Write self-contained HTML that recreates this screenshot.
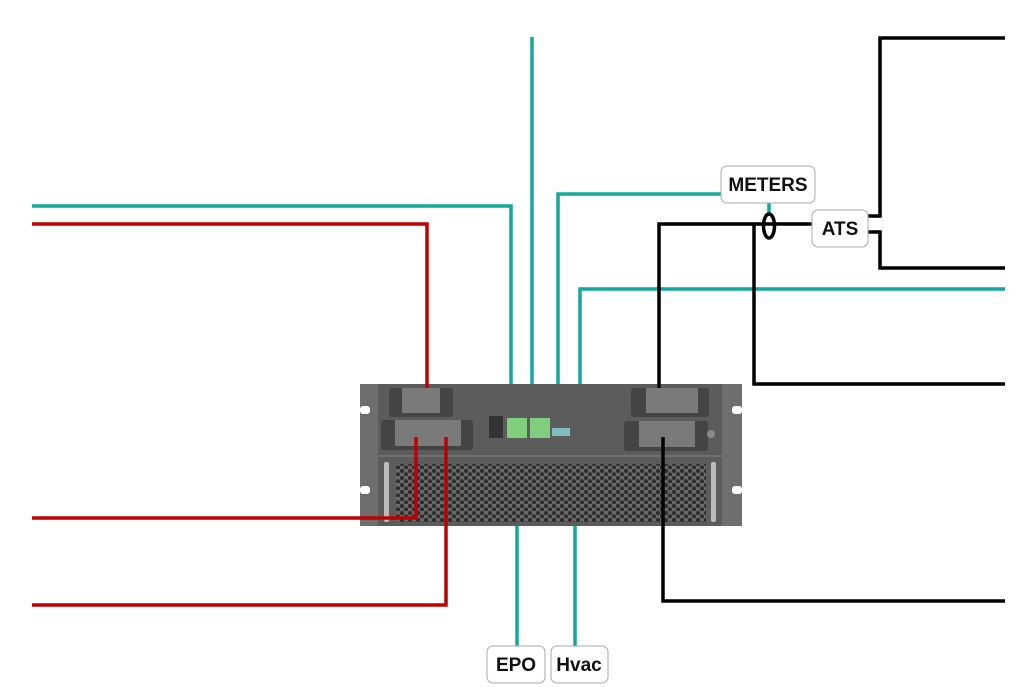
<!DOCTYPE html>
<html><head><meta charset="utf-8"><style>
html,body{margin:0;padding:0;background:#fff;width:1024px;height:687px;overflow:hidden}
svg{display:block}
.lbl{font-family:"Liberation Sans","DejaVu Sans",sans-serif;font-weight:bold;font-size:19px;fill:#111}
</style></head><body>
<svg width="1024" height="687" viewBox="0 0 1024 687" xmlns="http://www.w3.org/2000/svg">
<defs>
<pattern id="hex" width="8" height="7" patternUnits="userSpaceOnUse">
<rect width="8" height="7" fill="#6a6a6a"/>
<circle cx="2" cy="2" r="2.2" fill="#2e2e2e"/>
<circle cx="6" cy="5.5" r="2.2" fill="#2e2e2e"/>
</pattern>
</defs>
<!-- device -->
<rect x="360" y="384" width="382" height="142" fill="#6e6e6e"/>
<rect x="378" y="384" width="344" height="142" fill="#5c5c5c"/>
<rect x="360" y="406" width="10" height="8" rx="3" fill="#fff"/>
<rect x="360" y="486" width="10" height="8" rx="3" fill="#fff"/>
<rect x="732" y="406" width="10" height="8" rx="3" fill="#fff"/>
<rect x="732" y="486" width="10" height="8" rx="3" fill="#fff"/>
<line x1="378" y1="456" x2="722" y2="456" stroke="#777" stroke-width="1.5"/>
<rect x="396" y="464" width="310" height="58" fill="url(#hex)"/>
<rect x="384" y="462" width="5" height="60" rx="2" fill="#bbb"/>
<rect x="711" y="462" width="5" height="60" rx="2" fill="#bbb"/>
<!-- terminal blocks -->
<rect x="389" y="388" width="64" height="29" rx="3" fill="#444"/>
<rect x="402" y="388" width="38" height="25" fill="#7a7a7a"/>
<rect x="381" y="420" width="92" height="30" rx="3" fill="#444"/>
<rect x="395" y="420" width="66" height="26" fill="#7a7a7a"/>
<rect x="631" y="388" width="78" height="29" rx="3" fill="#444"/>
<rect x="646" y="388" width="52" height="25" fill="#7a7a7a"/>
<rect x="624" y="421" width="84" height="30" rx="3" fill="#444"/>
<rect x="639" y="421" width="56" height="26" fill="#7a7a7a"/>
<circle cx="711" cy="434" r="4" fill="#888"/>
<!-- control -->
<rect x="489" y="416" width="14" height="22" fill="#333"/>
<rect x="507" y="418" width="20" height="20" fill="#7fcf7f"/>
<rect x="530" y="418" width="20" height="20" fill="#7fcf7f"/>
<rect x="552" y="428" width="18" height="8" fill="#7fbfc0"/>
<!-- teal lines -->
<g fill="none" stroke="#12a89a" stroke-width="3.5">
<polyline points="32,206 511,206 511,384"/>
<line x1="532" y1="37" x2="532" y2="384"/>
<polyline points="558,384 558,194 722,194"/>
<polyline points="580,384 580,289 1005,289"/>
<line x1="769" y1="203" x2="769" y2="216"/>
<line x1="517" y1="526" x2="517" y2="646"/>
<line x1="575" y1="526" x2="575" y2="646"/>
</g>
<!-- red lines -->
<g fill="none" stroke="#c00000" stroke-width="3.5">
<polyline points="32,224 427,224 427,388"/>
<polyline points="416,437 416,518 32,518"/>
<polyline points="446,437 446,605 32,605"/>
</g>
<!-- black lines -->
<g fill="none" stroke="#000" stroke-width="3.5">
<polyline points="659,388 659,224 812,224"/>
<polyline points="754,224 754,384 1005,384"/>
<polyline points="868,216 880,216 880,38 1005,38"/>
<polyline points="868,232 880,232 880,268 1005,268"/>
<polyline points="663,437 663,601 1005,601"/>
<ellipse cx="769" cy="226" rx="5.5" ry="12" stroke-width="3.5"/>
</g>
<!-- labels -->
<rect x="721" y="166" width="94" height="37" rx="6" fill="#fff" stroke="#aaa"/>
<text class="lbl" x="768" y="191" text-anchor="middle">METERS</text>
<rect x="812" y="210" width="56" height="37" rx="6" fill="#fff" stroke="#aaa"/>
<text class="lbl" x="840" y="235" text-anchor="middle">ATS</text>
<rect x="487" y="646" width="58" height="37" rx="6" fill="#fff" stroke="#aaa"/>
<text class="lbl" x="516" y="671" text-anchor="middle">EPO</text>
<rect x="551" y="646" width="57" height="37" rx="6" fill="#fff" stroke="#aaa"/>
<text class="lbl" x="579" y="671" text-anchor="middle">Hvac</text>
</svg>
</body></html>
